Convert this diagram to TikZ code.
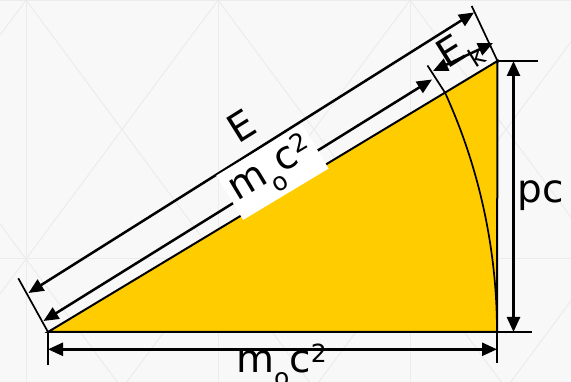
\documentclass[tikz,border=0pt]{standalone}
\usepackage{fontspec}
\setmainfont{DejaVu Sans}
\usetikzlibrary{arrows.meta}
\definecolor{bgc}{RGB}{248,248,248}
\definecolor{gridc}{RGB}{236,236,236}
\definecolor{gold}{RGB}{255,204,0}
\newcommand{\mylow}[1]{\raisebox{-14pt}{\fontsize{25}{25}\selectfont #1}}
\newcommand{\myhigh}[1]{\raisebox{10pt}{\fontsize{25}{25}\selectfont #1}}
\tikzset{
  dimarrow/.style={line width=2.5pt,
    {Triangle[length=15pt,width=13pt]}-{Triangle[length=15pt,width=13pt]}},
  tickline/.style={line width=1.7pt},
  edge/.style={line width=2pt, line join=miter},
  lbl/.style={font=\fontsize{39}{39}\selectfont, inner sep=0pt},
  gridline/.style={draw=gridc, line width=1pt},
}
\begin{document}
\begin{tikzpicture}[x=1pt,y=-1pt]
\useasboundingbox (0,0) rectangle (571,382);
\clip (0,0) rectangle (571,382);
\fill[bgc] (0,0) rectangle (571,382);
% faint background pattern
\foreach \xx in {26,218,410} \draw[gridline] (\xx,0) -- (\xx,382);
\draw[gridline] (0,0.5) -- (571,0.5);
\draw[gridline] (0,259) -- (571,259);
\foreach \xx in {-166,26,218,410} {
  \draw[gridline] (\xx,0) -- ({\xx+192},259);
  \draw[gridline] ({\xx+192},0) -- (\xx,259);
  \draw[gridline] (\xx,259) -- ({\xx+192},518);
  \draw[gridline] ({\xx+192},259) -- (\xx,518);
}
% triangle
\coordinate (A) at (48,332);
\coordinate (B) at (497,332);
\coordinate (C) at (497.5,61);
\fill[gold] (A) -- (B) -- (C) -- cycle;
\draw[edge] (A) -- (B) -- (C) -- cycle;
% arc and inner tick
\coordinate (P) at (445.1,92.8);
\coordinate (TM) at (427.5,65.5);
\draw[line width=1.7pt] (TM) -- (P) arc[start angle=24.5,end angle=0,radius=576pt];
% ticks
\coordinate (TA) at (18.3,278.3);
\coordinate (TC) at (471.7,6);
\draw[tickline] (A) -- (TA);
\draw[tickline] (C) -- (TC);
\coordinate (TAb) at (48,365);
\coordinate (TBb) at (497,363.5);
\draw[tickline] (A) -- (TAb);
\draw[tickline] (B) -- (TBb);
\coordinate (TCr) at (538,61);
\coordinate (TBr) at (532,332);
\draw[tickline] (C) -- (TCr);
\draw[tickline] (B) -- (TBr);
% dimension arrows
\coordinate (E1) at (28.5,293);
\coordinate (E2) at (474,12.5);
\coordinate (M1) at (43.5,321);
\coordinate (M2) at (432,79.5);
\coordinate (K1) at (433,71);
\coordinate (K2) at (493,43);
\coordinate (H1) at (48,349.3);
\coordinate (H2) at (497,349.3);
\coordinate (V1) at (513.5,61);
\coordinate (V2) at (513.5,332);
\draw[dimarrow] (E1) -- (E2);
\draw[dimarrow] (M1) -- (M2);
\draw[dimarrow] (K1) -- (K2);
\draw[dimarrow] (H1) -- (H2);
\draw[dimarrow] (V1) -- (V2);
% labels
\node[lbl, rotate=32] (lE) at (241.7,125.8) {E};
\node[lbl, rotate=31, fill=white, inner sep=4.5pt] (lM) at (272.5,172) {m\mylow{o}c\myhigh{2}};
\node[lbl, rotate=32, anchor=base west] (lK) at (447,70) {E\mylow{k}};
\node[lbl, anchor=base] (lP) at (541,202.7) {pc};
\node[lbl, anchor=base] (lB) at (281.5,373) {m\mylow{o}c\myhigh{2}};
\end{tikzpicture}
\end{document}
